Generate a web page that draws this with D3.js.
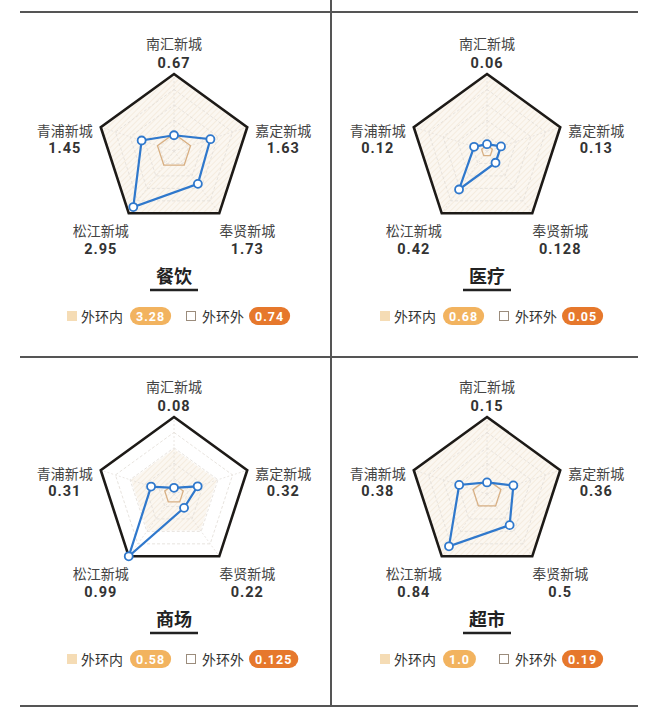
<!DOCTYPE html>
<html>
<head>
<meta charset="utf-8">
<script src="https://cdn.jsdelivr.net/npm/d3@7"></script>
<style>
  body { margin: 0; background: #fff; }
  svg { display: block; font-family: "Noto Sans CJK SC", "Noto Sans", sans-serif; }
  .num { font-family: Roboto, "DejaVu Sans", sans-serif; font-weight: 700; letter-spacing: 1px; }
</style>
</head>
<body>
<div class="chart"></div>
<script>
// axis order: top, upper right, lower right, lower left, upper left
const cities = ['南汇新城', '嘉定新城', '奉贤新城', '松江新城', '青浦新城'];

const titles = ['餐饮', '医疗', '商场', '超市'];
const food = [0.67, 1.63, 1.73, 2.95, 1.45];
const medical = [0.06, 0.13, 0.128, 0.42, 0.12];
const mall = [0.08, 0.32, 0.22, 0.99, 0.31];
const market = [0.15, 0.36, 0.5, 0.84, 0.38];

// 外环内 / 外环外 averages
const insideRing = [3.28, 0.68, 0.58, 1.0];
const outsideRing = [0.74, 0.05, 0.125, 0.19];

const series = [food, medical, mall, market];

const width = 660;
const height = 726;
const R = 77;
const centersX = [174, 487];
const centersY = [151, 494];

const blue = '#2f78cc';
const fmt = v => (v % 1 === 0 ? v.toFixed(1) : String(v));

const svg = d3.select('.chart').append('svg')
  .attr('width', width)
  .attr('height', height);

const pattern = svg.append('defs').append('pattern')
  .attr('id', 'hatch')
  .attr('patternUnits', 'userSpaceOnUse')
  .attr('width', 4)
  .attr('height', 4)
  .attr('patternTransform', 'rotate(45)');
pattern.append('rect').attr('width', 4).attr('height', 4).attr('fill', '#fbf7f1');
pattern.append('line')
  .attr('x1', 0).attr('y1', 0).attr('x2', 0).attr('y2', 4)
  .attr('stroke', '#f1e5d3').attr('stroke-width', 1.2);

// frame lines
const frame = svg.append('g').attr('stroke', '#555').attr('stroke-width', 2);
[12, 357, 706].forEach(y => {
  frame.append('line').attr('x1', 20).attr('x2', 638).attr('y1', y).attr('y2', y);
});
frame.append('line').attr('x1', 331).attr('x2', 331).attr('y1', 0).attr('y2', 706);

const angle = d3.scaleLinear().domain([0, cities.length]).range([0, 2 * Math.PI]);

function labelPos(i) {
  const a = angle(i);
  const vx = R * Math.sin(a);
  const vy = -R * Math.cos(a);
  if (i === 0) return [0, vy - 31, 20];
  if (i === 1 || i === 4) return [vx + Math.sign(vx) * 36, vy + 3, 18];
  return [vx + Math.sign(vx) * 28, vy + 17, 19];
}

series.forEach((values, p) => {
  const cx = centersX[p % 2];
  const cy = centersY[Math.floor(p / 2)];
  const max = Math.max(insideRing[p], d3.max(values));
  const r = d3.scaleLinear().domain([0, max]).range([0, R]);

  const g = svg.append('g').attr('transform', `translate(${cx},${cy})`);

  const ring = v => d3.lineRadial()
    .angle((d, i) => angle(i))
    .radius(() => r(v))
    .curve(d3.curveLinearClosed)(cities);

  // 外环内 hatched area
  g.append('path').attr('d', ring(insideRing[p])).attr('fill', 'url(#hatch)');

  // grid
  d3.range(1, 6).forEach(k => {
    g.append('path')
      .attr('d', ring(max * k / 5))
      .attr('fill', 'none')
      .attr('stroke', '#e4e0da')
      .attr('stroke-width', 0.9)
      .attr('stroke-dasharray', '3,2');
  });
  g.selectAll('.spoke')
    .data(cities)
    .enter()
    .append('line')
    .attr('x2', (d, i) => r(max) * Math.sin(angle(i)))
    .attr('y2', (d, i) => -r(max) * Math.cos(angle(i)))
    .attr('stroke', '#e4e0da')
    .attr('stroke-width', 0.8)
    .attr('stroke-dasharray', '2,2');

  // 外环外 outline
  g.append('path')
    .attr('d', ring(outsideRing[p]))
    .attr('fill', 'none')
    .attr('stroke', '#d8b084')
    .attr('stroke-width', 1.3);

  // outer border
  g.append('path')
    .attr('d', ring(max))
    .attr('fill', 'none')
    .attr('stroke', '#1d1a17')
    .attr('stroke-width', 2.6)
    .attr('stroke-linejoin', 'miter');

  // city values
  const line = d3.lineRadial()
    .angle((d, i) => angle(i))
    .radius(d => r(d))
    .curve(d3.curveLinearClosed);
  g.append('path')
    .attr('d', line(values))
    .attr('fill', 'none')
    .attr('stroke', blue)
    .attr('stroke-width', 2.2);
  g.selectAll('.dot')
    .data(values)
    .enter()
    .append('circle')
    .attr('cx', (d, i) => r(d) * Math.sin(angle(i)))
    .attr('cy', (d, i) => -r(d) * Math.cos(angle(i)))
    .attr('r', 4)
    .attr('fill', '#fff')
    .attr('stroke', blue)
    .attr('stroke-width', 1.8);

  // axis labels
  cities.forEach((name, i) => {
    const [lx, ly, gap] = labelPos(i);
    g.append('text')
      .attr('x', lx).attr('y', ly)
      .attr('text-anchor', 'middle')
      .attr('dominant-baseline', 'central')
      .attr('font-size', 14)
      .attr('fill', '#444')
      .text(name);
    g.append('text')
      .attr('class', 'num')
      .attr('x', lx).attr('y', ly + gap)
      .attr('text-anchor', 'middle')
      .attr('dominant-baseline', 'central')
      .attr('font-size', 14.5)
      .attr('fill', '#333')
      .text(fmt(values[i]));
  });

  // title
  g.append('text')
    .attr('y', 124)
    .attr('text-anchor', 'middle')
    .attr('dominant-baseline', 'central')
    .attr('font-size', 18)
    .attr('font-weight', 700)
    .attr('fill', '#222')
    .text(titles[p]);
  g.append('line')
    .attr('x1', -24).attr('x2', 24)
    .attr('y1', 139).attr('y2', 139)
    .attr('stroke', '#222')
    .attr('stroke-width', 2.6);

  // legend
  const ly = 165;
  g.append('rect')
    .attr('x', -107).attr('y', ly - 5)
    .attr('width', 10).attr('height', 10)
    .attr('fill', '#f5dcb5');
  g.append('text')
    .attr('x', -93).attr('y', ly)
    .attr('dominant-baseline', 'central')
    .attr('font-size', 14)
    .attr('fill', '#333')
    .text('外环内');
  g.append('rect')
    .attr('x', 12.5).attr('y', ly - 4.5)
    .attr('width', 9).attr('height', 9)
    .attr('fill', '#fff')
    .attr('stroke', '#9b8c7c');
  g.append('text')
    .attr('x', 28).attr('y', ly)
    .attr('dominant-baseline', 'central')
    .attr('font-size', 14)
    .attr('fill', '#333')
    .text('外环外');

  [[-44, insideRing[p], '#f2b35f'], [75, outsideRing[p], '#e6782c']].forEach(([bx, v, c]) => {
    const badge = g.append('g');
    const rect = badge.append('rect')
      .attr('x', bx).attr('y', ly - 9)
      .attr('height', 18)
      .attr('rx', 9)
      .attr('fill', c);
    const t = badge.append('text')
      .attr('class', 'num')
      .attr('y', ly)
      .attr('text-anchor', 'middle')
      .attr('dominant-baseline', 'central')
      .attr('font-size', 12.5)
      .attr('fill', '#fff')
      .text(fmt(v));
    const w = t.node().getComputedTextLength() + 12;
    rect.attr('width', w);
    t.attr('x', bx + w / 2);
  });
});
</script>
</body>
</html>
